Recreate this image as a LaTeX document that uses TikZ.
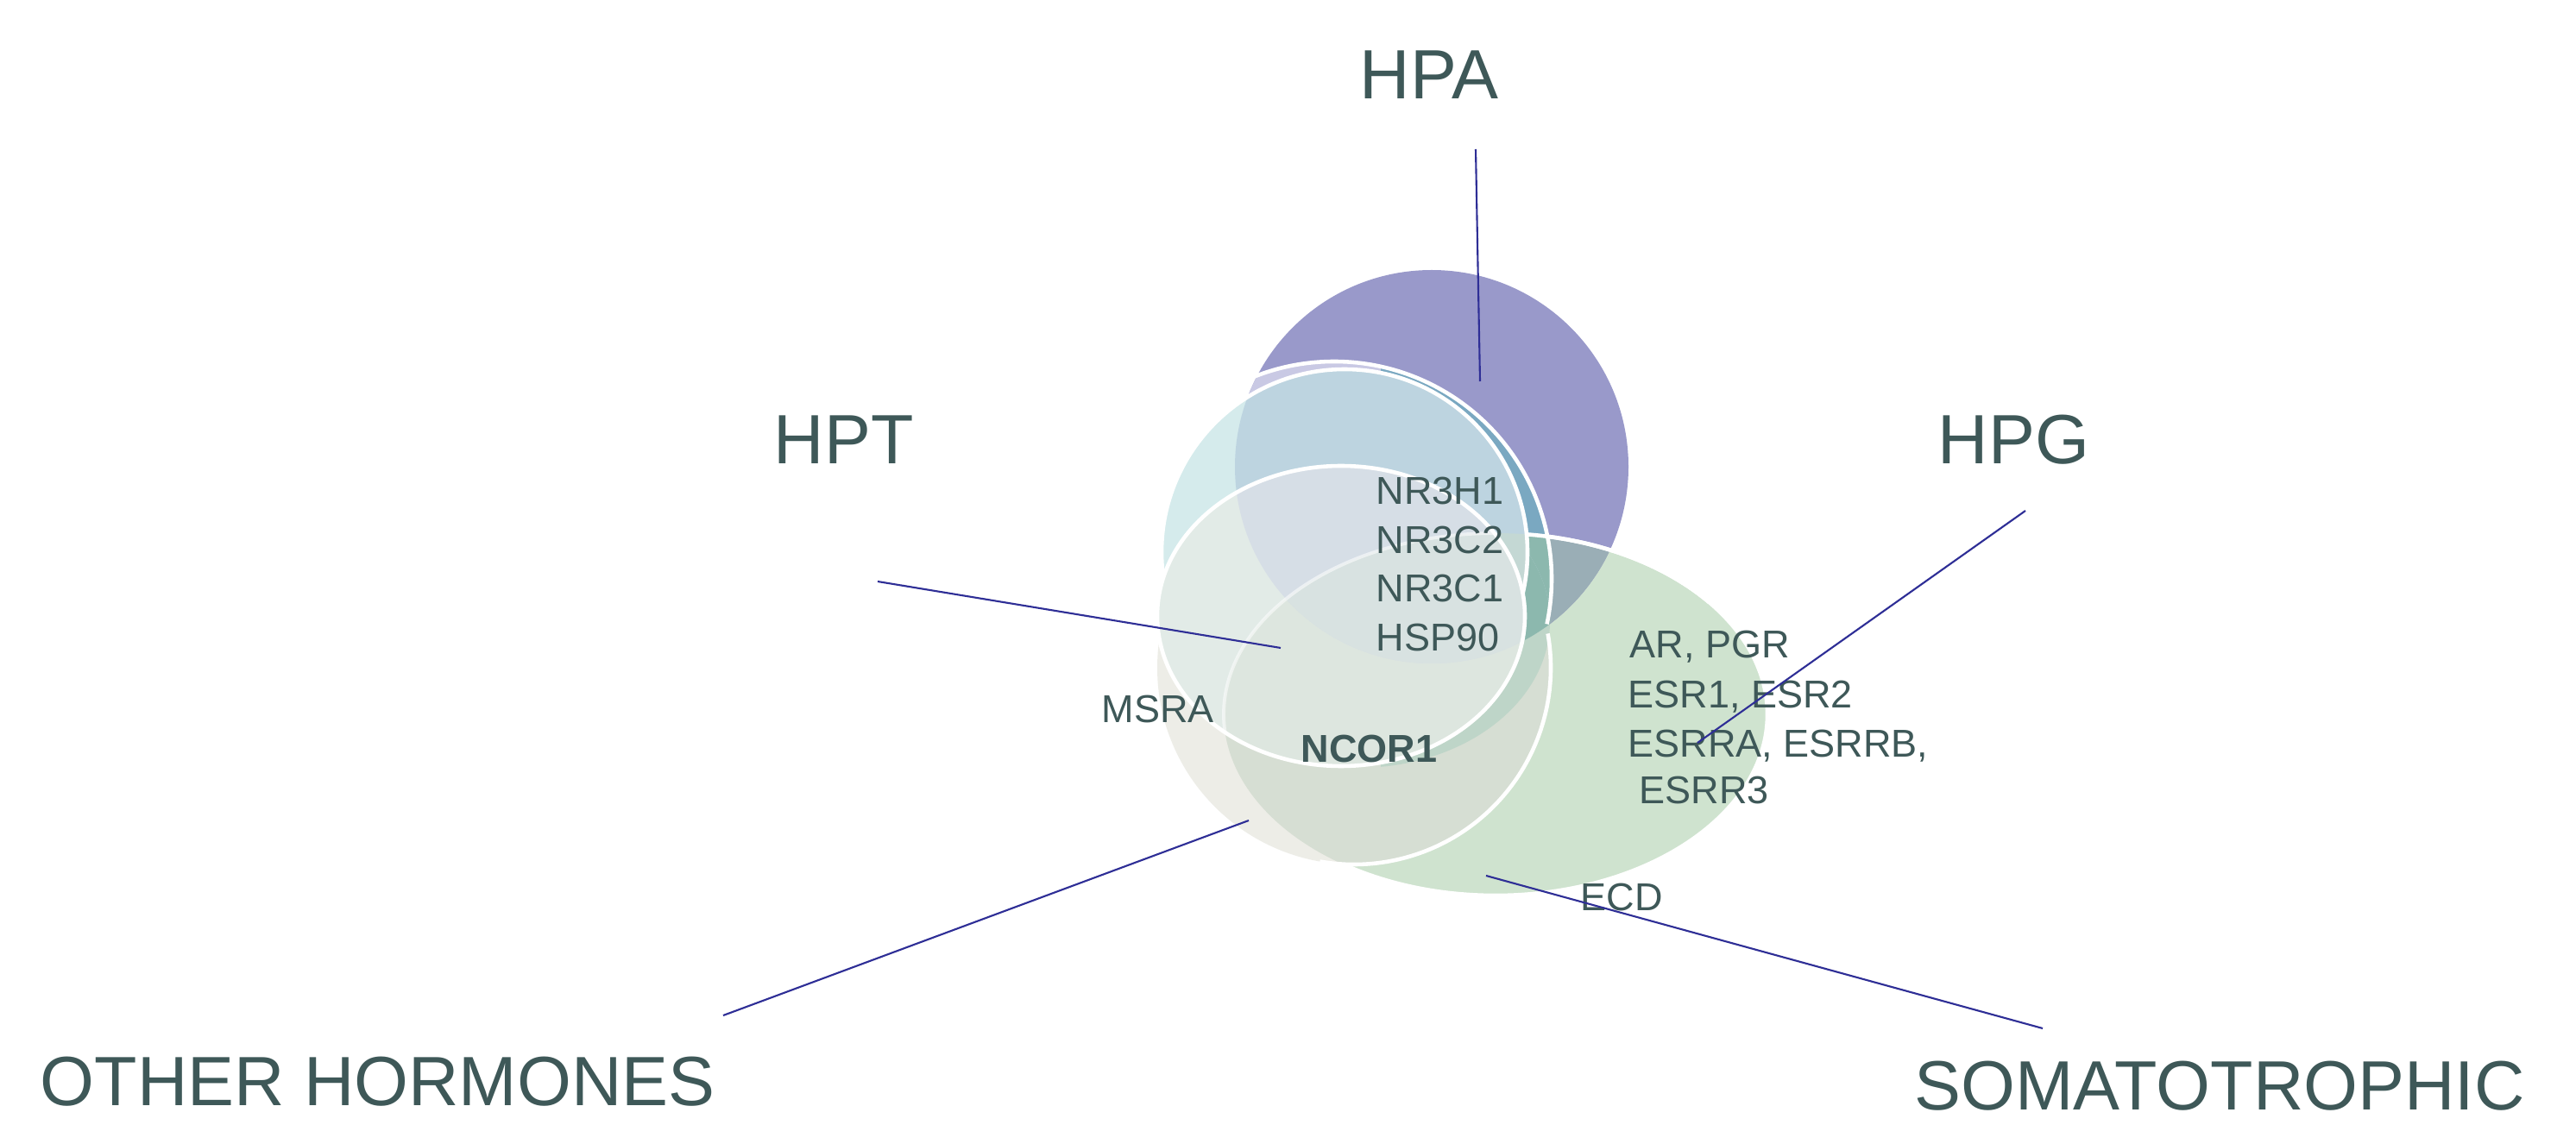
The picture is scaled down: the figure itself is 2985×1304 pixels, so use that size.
\documentclass[tikz,border=0pt]{standalone}
\usepackage{fontspec}
\setmainfont{Liberation Sans}
\definecolor{cPur}{HTML}{9999CA}
\definecolor{cGrn}{HTML}{CFE3CF}
\definecolor{cPurGrn}{HTML}{9AAEB6}
\definecolor{cGry}{HTML}{EDEDE7}
\definecolor{cGryGrn}{HTML}{D6DED3}
\definecolor{cLav}{HTML}{C9C9E4}
\definecolor{cBandPur}{HTML}{7AA8C1}
\definecolor{cBandPG}{HTML}{8CB8AE}
\definecolor{cBandGrn}{HTML}{BED5C8}
\definecolor{cCyan}{HTML}{D5EBEC}
\definecolor{cQPur}{HTML}{BDD4E0}
\definecolor{cQGrn}{HTML}{C4D8D4}
\definecolor{cR}{HTML}{E2EBE7}
\definecolor{cRPur}{HTML}{D6DEE6}
\definecolor{cRGrn}{HTML}{DDE6DF}
\definecolor{cRPG}{HTML}{D8E2E1}
\definecolor{cTxt}{HTML}{3E5858}
\definecolor{cLead}{HTML}{2E2E96}
\begin{document}
\begin{tikzpicture}[x=0.01cm,y=-0.01cm,
  wline/.style={draw=white,line width=1.3pt},
  leader/.style={draw=cLead,line width=0.6pt},
  small/.style={inner sep=0pt,anchor=base west,text=cTxt,font=\fontsize{12.8}{15}\selectfont},
  smallbold/.style={small,font=\fontsize{12.8}{15}\selectfont\bfseries},
  title/.style={inner sep=0pt,anchor=base west,text=cTxt,font=\fontsize{23}{27}\selectfont}]
\useasboundingbox (0,0) rectangle (2985,1304);
\fill[white] (0,0) rectangle (2985,1304);
\def\PUR{(1659,541) circle (228)}
\def\GRN{(1733,828) ellipse (315 and 210)}
\def\GRY{(1569,774) circle (228)}
\def\PP{(1546,671) circle (252)}
\def\SS{(1574,720) ellipse (222 and 170)}
\def\QQ{(1558,640) circle (212)}
\def\RR{(1554,714) ellipse (213 and 174)}
% green and purple
\fill[cGrn] \GRN;
\fill[cPur] \PUR;
\begin{scope}\clip \GRN; \fill[cPurGrn] \PUR; \end{scope}
\draw[wline] \GRN;
% gray circle
\fill[cGry] \GRY;
\begin{scope}\clip \GRN; \fill[cGryGrn] \GRY; \end{scope}
% lavender sliver
\begin{scope}\clip (0,0) rectangle (1600,1304); \clip \PP; \fill[cLav] \PUR; \end{scope}
% dark band
\begin{scope}\clip (1600,0) rectangle (2985,700); \clip \PP;
  \fill[cBandPur] \PUR; \fill[cBandGrn] \GRN; \clip \PUR; \fill[cBandPG] \GRN;
\end{scope}
\begin{scope}\clip (1600,0) rectangle (2985,1304); \clip \SS;
  \fill[cBandPur] \PUR; \fill[cBandGrn] \GRN; \clip \PUR; \fill[cBandPG] \GRN;
\end{scope}
\begin{scope}\clip (1600,0) rectangle (2985,700); \draw[wline] \GRN; \end{scope}
% outlines of gray and outer circle
\draw[wline] (1569,774) ++(-10:228) arc[start angle=-10,end angle=100,radius=228];
\draw[wline] (1546,671) ++(180:252) arc[start angle=180,end angle=372,radius=252];
% Q circle
\begin{scope}\clip \QQ;
  \fill[cCyan] \QQ; \fill[cQPur] \PUR; \fill[cQGrn] \GRN;
\end{scope}
\draw[wline] \QQ;
% R ellipse
\begin{scope}\clip \RR;
  \fill[cR] \RR; \fill[cRGrn] \GRN; \fill[cRPur] \PUR; \clip \PUR; \fill[cRPG] \GRN;
\end{scope}
\begin{scope}\clip \RR; \draw[white,opacity=0.55,line width=1.1pt] \GRN; \end{scope}
\draw[wline] \RR;
% texts
\node[title] (tHPA) at (1575,115) {HPA};
\node[title] (tHPT) at (896,538) {HPT};
\node[title] (tHPG) at (2245,538) {HPG};
\node[title] (tOTH) at (46,1281) {OTHER HORMONES};
\node[title] (tSOM) at (2218,1286) {SOMATOTROPHIC};
\node[small] (l1) at (1594,585) {NR3H1};
\node[small] (l2) at (1594,642) {NR3C2};
\node[small] (l3) at (1594,698) {NR3C1};
\node[small] (l4) at (1594,755) {HSP90};
\node[small] (g1) at (1888,763) {AR, PGR};
\node[small] (g2) at (1886,821) {ESR1, ESR2};
\node[small] (g3) at (1886,877) {ESRRA, ESRRB,};
\node[small] (g4) at (1899,932) {ESRR3};
\node[small] (msra) at (1276,838) {MSRA};
\node[smallbold] (ncor) at (1507,884) {NCOR1};
\node[small] (ecd) at (1831,1055) {ECD};
% leader lines
\coordinate (hpaA) at (1710,173); \coordinate (hpaB) at (1715,442);
\coordinate (hptA) at (1017,674); \coordinate (hptB) at (1484,751);
\coordinate (hpgA) at (2347,592); \coordinate (hpgB) at (1967,861);
\coordinate (othA) at (838,1177); \coordinate (othB) at (1447,951);
\coordinate (somA) at (2367,1192); \coordinate (somB) at (1722,1015);
\draw[leader] (hpaA) -- (hpaB);
\draw[leader] (hptA) -- (hptB);
\draw[leader] (hpgA) -- (hpgB);
\draw[leader] (othA) -- (othB);
\draw[leader] (somA) -- (somB);
\end{tikzpicture}
\end{document}
